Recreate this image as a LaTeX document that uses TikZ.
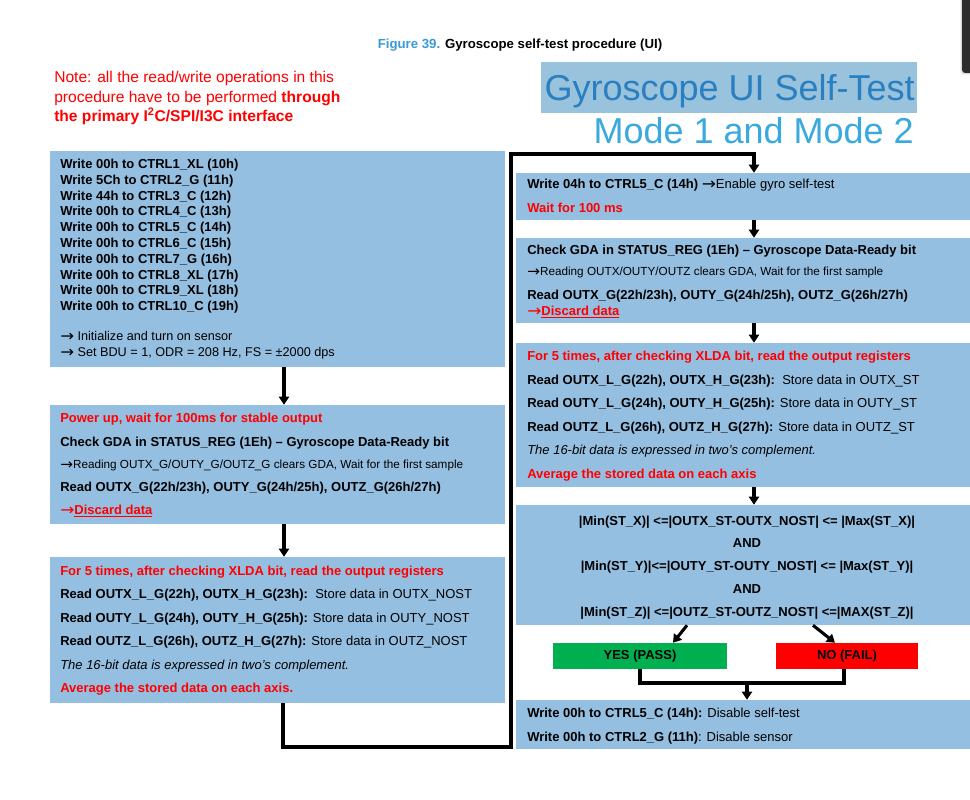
\documentclass[tikz,border=0pt]{standalone}
\usepackage{fontspec}
\usepackage{graphicx}
\setmainfont{Liberation Sans}
\newfontfamily\arrowfont{DejaVu Sans}
\usetikzlibrary{arrows.meta,fit}
\definecolor{boxblue}{RGB}{149,191,225}
\definecolor{titlebg}{RGB}{153,194,221}
\definecolor{titleblue}{RGB}{42,127,192}
\definecolor{modeblue}{RGB}{58,169,224}
\definecolor{figblue}{RGB}{58,154,217}
\definecolor{passgreen}{RGB}{0,176,80}
\definecolor{failred}{RGB}{255,0,0}
\definecolor{scrollgray}{RGB}{45,45,45}
\newcommand\mainsz{\fontsize{9.75}{12}\selectfont}
\newcommand\smallsz{\fontsize{8.8}{10}\selectfont}
\newcommand\midsz{\fontsize{9.5}{11}\selectfont}
\newcommand\rarr{\raisebox{-0.6pt}{\scalebox{1.3}[1.25]{\arrowfont\mdseries →}}}
\begin{document}
\begin{tikzpicture}[x=0.75pt,y=-0.75pt,
  box/.style={fill=boxblue,draw=none,inner sep=0pt},
  txt/.style={anchor=base west,inner sep=0pt,font=\mainsz},
  btxt/.style={txt,font=\mainsz\bfseries},
  rtxt/.style={txt,font=\mainsz\bfseries,text=failred},
  stxt/.style={txt,font=\smallsz},
  ctxt/.style={anchor=base,inner sep=0pt,font=\mainsz\bfseries},
  notetxt/.style={anchor=base west,inner sep=0pt,font=\fontsize{11.7}{14}\selectfont,text=failred},
  conn/.style={line width=2.3pt,line join=miter},
  arr/.style={conn,-{Triangle[width=7.5pt,length=6pt]}},
  verdict/.style={inner sep=0pt,minimum height=19.5pt,font=\mainsz\bfseries}
]
\useasboundingbox (0,0) rectangle (970,799);
\fill[white] (0,0) rectangle (970,799);

% window scrollbar at the top right
\fill[black!15,rounded corners=3pt] (960.5,-10) rectangle (985,74.5);
\fill[scrollgray,rounded corners=2.5pt] (962,-10) rectangle (985,73);

% title
\node[anchor=base,inner sep=0pt,font=\fontsize{9.9}{12}\selectfont\bfseries] (fig) at (520,48.5)
  {\textcolor{figblue}{Figure 39.} Gyroscope self-test procedure (UI)};

% note
\node[notetxt] (n1) at (54,82.5) {Note: all the read/write operations in this};
\node[notetxt] (n2) at (54,102.5) {procedure have to be performed \textbf{through}};
\node[notetxt,font=\fontsize{11.7}{14}\selectfont\bfseries] (n3) at (54,121.5) {the primary I\textsuperscript{2}C/SPI/I3C interface};

% big title
\node[fill=titlebg,inner sep=0pt,fit={(541,62) (917,113)}] (tbg) {};
\node[anchor=base east,inner sep=0pt,font=\fontsize{27}{30}\selectfont,text=titleblue] (gt) at (915,100) {Gyroscope UI Self-Test};
\node[anchor=base east,inner sep=0pt,font=\fontsize{27}{30}\selectfont,text=modeblue] (mt) at (914,143) {Mode 1 and Mode 2};

% ---------- left column ----------
\node[box,fit={(50,151) (505,367)}] (b1) {};
\node[btxt] (b1l1) at (60,168.5) {Write 00h to CTRL1\_XL (10h)};
\node[btxt] (b1l2) at (60,184.3) {Write 5Ch to CTRL2\_G (11h)};
\node[btxt] (b1l3) at (60,200.1) {Write 44h to CTRL3\_C (12h)};
\node[btxt] (b1l4) at (60,215.9) {Write 00h to CTRL4\_C (13h)};
\node[btxt] (b1l5) at (60,231.7) {Write 00h to CTRL5\_C (14h)};
\node[btxt] (b1l6) at (60,247.5) {Write 00h to CTRL6\_C (15h)};
\node[btxt] (b1l7) at (60,263.3) {Write 00h to CTRL7\_G (16h)};
\node[btxt] (b1l8) at (60,279.1) {Write 00h to CTRL8\_XL (17h)};
\node[btxt] (b1l9) at (60,294.9) {Write 00h to CTRL9\_XL (18h)};
\node[btxt] (b1l10) at (60,310.7) {Write 00h to CTRL10\_C (19h)};
\node[txt,font=\midsz] (b1l11) at (60,340.5) {\rarr\ Initialize and turn on sensor};
\node[txt,font=\midsz] (b1l12) at (60,356.5) {\rarr\ Set BDU = 1, ODR = 208 Hz, FS = ±2000 dps};

\node[box,fit={(50,405) (505,524)}] (b2) {};
\node[rtxt] (b2l1) at (60,422.5) {Power up, wait for 100ms for stable output};
\node[btxt] (b2l2) at (60,446.5) {Check GDA in STATUS\_REG (1Eh) – Gyroscope Data-Ready bit};
\node[stxt] (b2l3) at (60,468.3) {\rarr Reading OUTX\_G/OUTY\_G/OUTZ\_G clears GDA, Wait for the first sample};
\node[btxt] (b2l4) at (60,491.5) {Read OUTX\_G(22h/23h), OUTY\_G(24h/25h), OUTZ\_G(26h/27h)};
\node[rtxt] (b2l5) at (60,514.5) {\rarr\underline{Discard data}};

\node[box,fit={(50,557) (505,703)}] (b3) {};
\node[rtxt] (b3l1) at (60,575.5) {For 5 times, after checking XLDA bit, read the output registers};
\node[txt] (b3l2) at (60,598.5) {\textbf{Read OUTX\_L\_G(22h), OUTX\_H\_G(23h):}\ \ Store data in OUTX\_NOST};
\node[txt] (b3l3) at (60,622.5) {\textbf{Read OUTY\_L\_G(24h), OUTY\_H\_G(25h):} Store data in OUTY\_NOST};
\node[txt] (b3l4) at (60,645.5) {\textbf{Read OUTZ\_L\_G(26h), OUTZ\_H\_G(27h):} Store data in OUTZ\_NOST};
\node[txt,font=\mainsz\itshape] (b3l5) at (60,669.5) {The 16-bit data is expressed in two’s complement.};
\node[rtxt] (b3l6) at (60,692.5) {Average the stored data on each axis.};

% ---------- right column ----------
\node[box,fit={(516,173) (970,220)}] (r1) {};
\node[txt] (r1l1) at (527,188.5) {\textbf{Write 04h to CTRL5\_C (14h)} \rarr Enable gyro self-test};
\node[rtxt] (r1l2) at (527,212.5) {Wait for 100 ms};

\node[box,fit={(516,238) (970,323)}] (r2) {};
\node[btxt] (r2l1) at (527,254.5) {Check GDA in STATUS\_REG (1Eh) – Gyroscope Data-Ready bit};
\node[stxt] (r2l2) at (527,275.5) {\rarr Reading OUTX/OUTY/OUTZ clears GDA, Wait for the first sample};
\node[btxt] (r2l3) at (527,299.5) {Read OUTX\_G(22h/23h), OUTY\_G(24h/25h), OUTZ\_G(26h/27h)};
\node[rtxt] (r2l4) at (527,315.5) {\rarr\underline{Discard data}};

\node[box,fit={(516,343) (970,487)}] (r3) {};
\node[rtxt] (r3l1) at (527,360.5) {For 5 times, after checking XLDA bit, read the output registers};
\node[txt] (r3l2) at (527,384.5) {\textbf{Read OUTX\_L\_G(22h), OUTX\_H\_G(23h):}\ \ Store data in OUTX\_ST};
\node[txt] (r3l3) at (527,407.5) {\textbf{Read OUTY\_L\_G(24h), OUTY\_H\_G(25h):} Store data in OUTY\_ST};
\node[txt] (r3l4) at (527,431.5) {\textbf{Read OUTZ\_L\_G(26h), OUTZ\_H\_G(27h):} Store data in OUTZ\_ST};
\node[txt,font=\mainsz\itshape] (r3l5) at (527,454.5) {The 16-bit data is expressed in two’s complement.};
\node[rtxt] (r3l6) at (527,478.5) {Average the stored data on each axis};

\node[box,fit={(516,505) (970,625)}] (r4) {};
\node[ctxt] (r4l1) at (747,525.5) {|Min(ST\_X)| <=|OUTX\_ST-OUTX\_NOST| <= |Max(ST\_X)|};
\node[ctxt] (r4l2) at (747,547.5) {AND};
\node[ctxt] (r4l3) at (747,570.5) {|Min(ST\_Y)|<=|OUTY\_ST-OUTY\_NOST| <= |Max(ST\_Y)|};
\node[ctxt] (r4l4) at (747,593.5) {AND};
\node[ctxt] (r4l5) at (747,616.5) {|Min(ST\_Z)| <=|OUTZ\_ST-OUTZ\_NOST| <=|MAX(ST\_Z)|};

\node[verdict,fill=passgreen,minimum width=130.5pt] (yes) at (640,656) {YES (PASS)};
\node[verdict,fill=failred,minimum width=106.5pt] (no) at (847,656) {NO (FAIL)};

\node[box,fit={(516,700) (970,749)}] (r5) {};
\node[txt] (r5l1) at (527,717) {\textbf{Write 00h to CTRL5\_C (14h):} Disable self-test};
\node[txt] (r5l2) at (527,741) {\textbf{Write 00h to CTRL2\_G (11h)}: Disable sensor};

% ---------- connector guide coordinates ----------
\coordinate (xL) at (284,0);
\coordinate (xLd) at (283,0);
\coordinate (xM) at (511,0);
\coordinate (xR) at (754,0);
\coordinate (yB) at (0,747);
\coordinate (yT) at (0,154);
\coordinate (dA) at (687,0);
\coordinate (dB) at (673,0);
\coordinate (dC) at (813,0);
\coordinate (dD) at (835,0);
\coordinate (jN) at (844,0);
\coordinate (jA) at (747,0);
\coordinate (jy) at (0,683);

% ---------- connectors ----------
\draw[arr] (b1.south -| xL) -- (b2.north -| xL);
\draw[arr] (b2.south -| xL) -- (b3.north -| xL);
\draw[arr] (b3.south -| xLd) -- (xLd |- yB) -- (xM |- yB) -- (xM |- yT) -- (xR |- yT) -- (r1.north -| xR);
\draw[arr] (r1.south -| xR) -- (r2.north -| xR);
\draw[arr] (r2.south -| xR) -- (r3.north -| xR);
\draw[arr] (r3.south -| xR) -- (r4.north -| xR);
\draw[arr] (r4.south -| dA) -- (yes.north -| dB);
\draw[arr] (r4.south -| dC) -- (no.north -| dD);
\draw[conn] (yes.south) -- (yes.south |- jy) -- (jN |- jy) -- (no.south -| jN);
\draw[arr] (jA |- jy) -- (r5.north -| jA);
\end{tikzpicture}
\end{document}
